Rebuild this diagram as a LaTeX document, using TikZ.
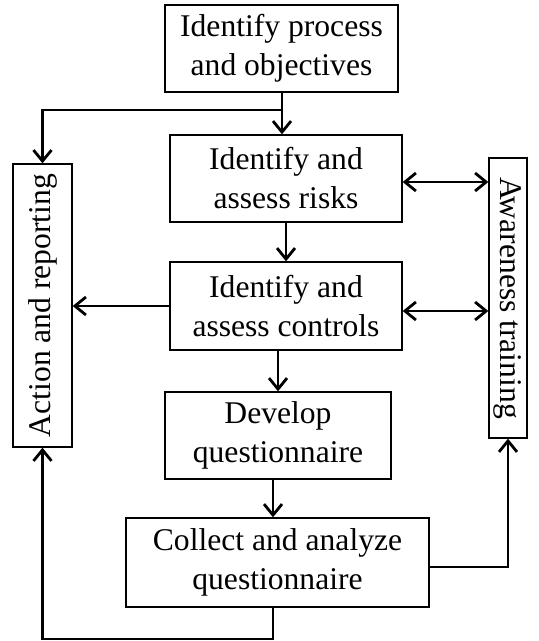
\documentclass[tikz,border=0pt]{standalone}
\usepackage{fontspec}
\setmainfont{Liberation Serif}
\usepackage{graphicx}
\usetikzlibrary{arrows.meta, positioning, calc}

\begin{document}
\begin{tikzpicture}[
  x=0.5pt, y=-0.5pt,
  stepbox/.style={draw, line width=0.7pt, align=center, inner sep=0pt, font=\fontsize{15.8}{19.5}\selectfont},
  link/.style={line width=1.4pt, -{Straight Barb[length=5.5pt, width=9pt]}},
  dlink/.style={line width=1.4pt, {Straight Barb[length=5.5pt, width=9pt]}-{Straight Barb[length=5.5pt, width=9pt]}}
]
  \useasboundingbox (0,0) rectangle (538,641);
  % main column
  \node[stepbox, minimum width=116.5pt, minimum height=43.5pt] (process) at (281.5,48.5) {Identify process\\and objectives};
  \node[stepbox, minimum width=116pt, minimum height=43.5pt] (risks) at (286,178.5) {Identify and\\assess risks};
  \node[stepbox, minimum width=116pt, minimum height=44pt] (controls) at (286,306) {Identify and\\assess controls};
  \node[stepbox, minimum width=113pt, minimum height=43.5pt] (develop) at (278,435.5) {Develop\\questionnaire};
  \node[stepbox, minimum width=151.5pt, minimum height=44.5pt] (collect) at (277.5,562.5) {Collect and analyze\\questionnaire};
  % side boxes
  \node[stepbox, minimum width=29.5pt, minimum height=141.5pt] (action) at (42.5,305.5) {\rotatebox{90}{Action and reporting}};
  \node[stepbox, minimum width=19pt, minimum height=140pt] (aware) at (508,298) {\rotatebox{-90}{Awareness training}};
  % connectors
  \coordinate (split) at (282,110);
  \draw[line width=1.4pt] (split |- process.south) -- (split);
  \draw[link] (split) -- (split |- risks.north);
  \draw[link] (split) -| (action.north);
  \draw[link] (risks.south -| 286,0) -- (controls.north -| 286,0);
  \draw[link] (controls.west) -- (controls.west -| action.east);
  \draw[dlink] ($(risks.east)+(0,3.5)$) -- ($(risks.east -| aware.west)+(0,3.5)$);
  \draw[dlink] ($(controls.east)+(0,5)$) -- ($(controls.east -| aware.west)+(0,5)$);
  \draw[link] (controls.south -| develop.north) -- (develop.north);
  \draw[link] (develop.south -| 273,0) -- (collect.north -| 273,0);
  \draw[link] ($(collect.east)+(0,4.5)$) -| (aware.south);
  \draw[link] (collect.south -| 273,0) -- (273,639) -| (action.south);
\end{tikzpicture}
\end{document}
